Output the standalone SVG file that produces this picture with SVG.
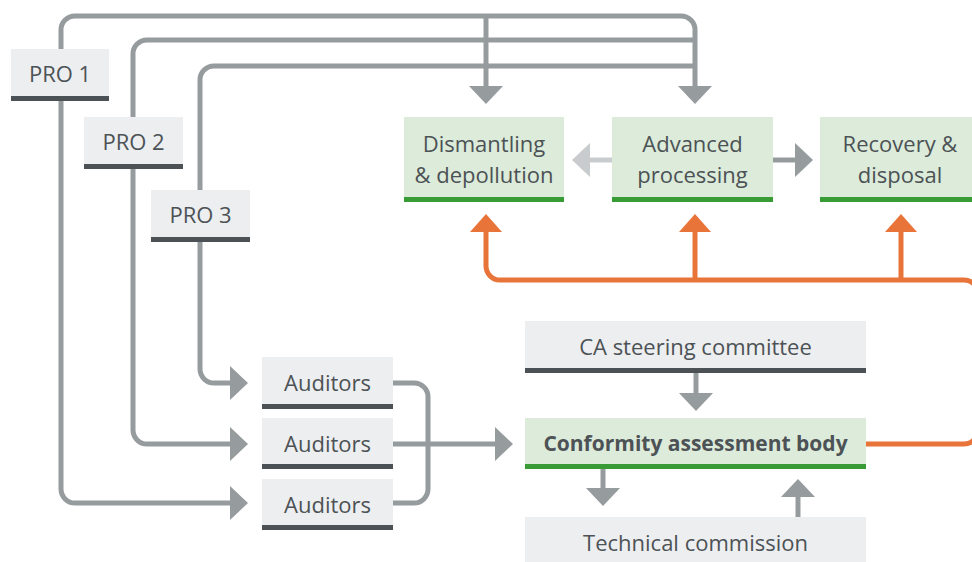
<svg xmlns="http://www.w3.org/2000/svg" width="972" height="562" viewBox="0 0 972 562">
  <style>
    .box-grey { fill: #edeef0; }
    .box-green { fill: #dcebda; }
    .bar-dark { fill: #4b5154; }
    .bar-green { fill: #399b35; }
    .label { font-family: "Open Sans", "Noto Sans", "Liberation Sans", sans-serif; font-size: 22px; fill: #4c5255; text-anchor: middle; }
    .bold { font-weight: bold; font-size: 21px; }
    .line { fill: none; stroke: #969b9d; stroke-width: 5; }
    .line-light { fill: none; stroke: #c9ccce; stroke-width: 5; }
    .line-orange { fill: none; stroke: #e8743a; stroke-width: 5; }
  </style>
  <defs>
    <marker id="arrow-grey" viewBox="0 -17 18 34" refX="0" refY="0" markerWidth="18" markerHeight="34" markerUnits="userSpaceOnUse" orient="auto">
      <path d="M0,-17 L18,0 L0,17 z" fill="#969b9d"/>
    </marker>
    <marker id="arrow-light" viewBox="0 -17 18 34" refX="0" refY="0" markerWidth="18" markerHeight="34" markerUnits="userSpaceOnUse" orient="auto">
      <path d="M0,-17 L18,0 L0,17 z" fill="#c9ccce"/>
    </marker>
    <marker id="arrow-orange" viewBox="0 -16 18 32" refX="0" refY="0" markerWidth="18" markerHeight="32" markerUnits="userSpaceOnUse" orient="auto">
      <path d="M0,-16 L18,0 L0,16 z" fill="#e8743a"/>
    </marker>
  </defs>

  <!-- connectors -->
  <g id="connectors">
    <!-- producer organisations to the treatment stages -->
    <path class="line" d="M61,49 V30 a14,14 0 0 1 14,-14 H681 a14,14 0 0 1 14,14 V86" marker-end="url(#arrow-grey)"/>
    <path class="line" d="M486,16 V86" marker-end="url(#arrow-grey)"/>
    <path class="line" d="M133,117 V54 a14,14 0 0 1 14,-14 H695"/>
    <path class="line" d="M200,190 V80 a14,14 0 0 1 14,-14 H695"/>
    <!-- producer organisations to auditors -->
    <path class="line" d="M61,100 V489 a14,14 0 0 0 14,14 H230" marker-end="url(#arrow-grey)"/>
    <path class="line" d="M133,168 V430 a14,14 0 0 0 14,14 H230" marker-end="url(#arrow-grey)"/>
    <path class="line" d="M200,241 V369 a14,14 0 0 0 14,14 H230" marker-end="url(#arrow-grey)"/>
    <!-- auditors to conformity assessment body -->
    <path class="line" d="M393,383 H414 a14,14 0 0 1 14,14 V489 a14,14 0 0 1 -14,14 H393"/>
    <path class="line" d="M393,444 H495" marker-end="url(#arrow-grey)"/>
    <!-- flow between treatment stages -->
    <path class="line" d="M773,160 H795" marker-end="url(#arrow-grey)"/>
    <path class="line-light" d="M612,160 H590" marker-end="url(#arrow-light)"/>
    <!-- governance -->
    <path class="line" d="M696,373 V393" marker-end="url(#arrow-grey)"/>
    <path class="line" d="M603,469 V488" marker-end="url(#arrow-grey)"/>
    <path class="line" d="M798,517 V497" marker-end="url(#arrow-grey)"/>
    <!-- assessment body to treatment stages -->
    <path class="line-orange" d="M866,444 H964 a14,14 0 0 0 14,-14 V294 a14,14 0 0 0 -14,-14 H500 a14,14 0 0 1 -14,-14 V232" marker-end="url(#arrow-orange)"/>
    <path class="line-orange" d="M695,280 V232" marker-end="url(#arrow-orange)"/>
    <path class="line-orange" d="M901,280 V232" marker-end="url(#arrow-orange)"/>
  </g>

  <!-- producer organisations -->
  <g id="pro1">
    <rect class="box-grey" x="11" y="49" width="98" height="51"/>
    <rect class="bar-dark" x="11" y="96" width="98" height="5"/>
    <text class="label" x="60" y="82">PRO 1</text>
  </g>
  <g id="pro2">
    <rect class="box-grey" x="84" y="117" width="99" height="51"/>
    <rect class="bar-dark" x="84" y="164" width="99" height="5"/>
    <text class="label" x="133.5" y="150">PRO 2</text>
  </g>
  <g id="pro3">
    <rect class="box-grey" x="151" y="190" width="99" height="51"/>
    <rect class="bar-dark" x="151" y="237" width="99" height="5"/>
    <text class="label" x="200.5" y="223">PRO 3</text>
  </g>

  <!-- treatment stages -->
  <g id="dismantling">
    <rect class="box-green" x="404" y="117" width="160" height="85"/>
    <rect class="bar-green" x="404" y="197" width="160" height="5"/>
    <text class="label" x="484" y="152">Dismantling</text>
    <text class="label" x="484" y="183">&amp; depollution</text>
  </g>
  <g id="advanced">
    <rect class="box-green" x="612" y="117" width="161" height="85"/>
    <rect class="bar-green" x="612" y="197" width="161" height="5"/>
    <text class="label" x="692.5" y="152">Advanced</text>
    <text class="label" x="692.5" y="183">processing</text>
  </g>
  <g id="recovery">
    <rect class="box-green" x="820" y="117" width="160" height="85"/>
    <rect class="bar-green" x="820" y="197" width="160" height="5"/>
    <text class="label" x="900" y="152">Recovery &amp;</text>
    <text class="label" x="900" y="183">disposal</text>
  </g>

  <!-- auditors -->
  <g id="auditors1">
    <rect class="box-grey" x="262" y="357" width="131" height="52"/>
    <rect class="bar-dark" x="262" y="404" width="131" height="5"/>
    <text class="label" x="327.5" y="391">Auditors</text>
  </g>
  <g id="auditors2">
    <rect class="box-grey" x="262" y="418" width="131" height="51"/>
    <rect class="bar-dark" x="262" y="464" width="131" height="5"/>
    <text class="label" x="327.5" y="452">Auditors</text>
  </g>
  <g id="auditors3">
    <rect class="box-grey" x="262" y="479" width="131" height="51"/>
    <rect class="bar-dark" x="262" y="525" width="131" height="5"/>
    <text class="label" x="327.5" y="513">Auditors</text>
  </g>

  <!-- governance bodies -->
  <g id="steering">
    <rect class="box-grey" x="525" y="321" width="341" height="52"/>
    <rect class="bar-dark" x="525" y="368" width="341" height="5"/>
    <text class="label" x="695.5" y="355">CA steering committee</text>
  </g>
  <g id="cab">
    <rect class="box-green" x="525" y="418" width="341" height="51"/>
    <rect class="bar-green" x="525" y="464" width="341" height="5"/>
    <text class="label bold" x="695.5" y="451">Conformity assessment body</text>
  </g>
  <g id="technical">
    <rect class="box-grey" x="525" y="517" width="341" height="45"/>
    <text class="label" x="695.5" y="551">Technical commission</text>
  </g>
</svg>
